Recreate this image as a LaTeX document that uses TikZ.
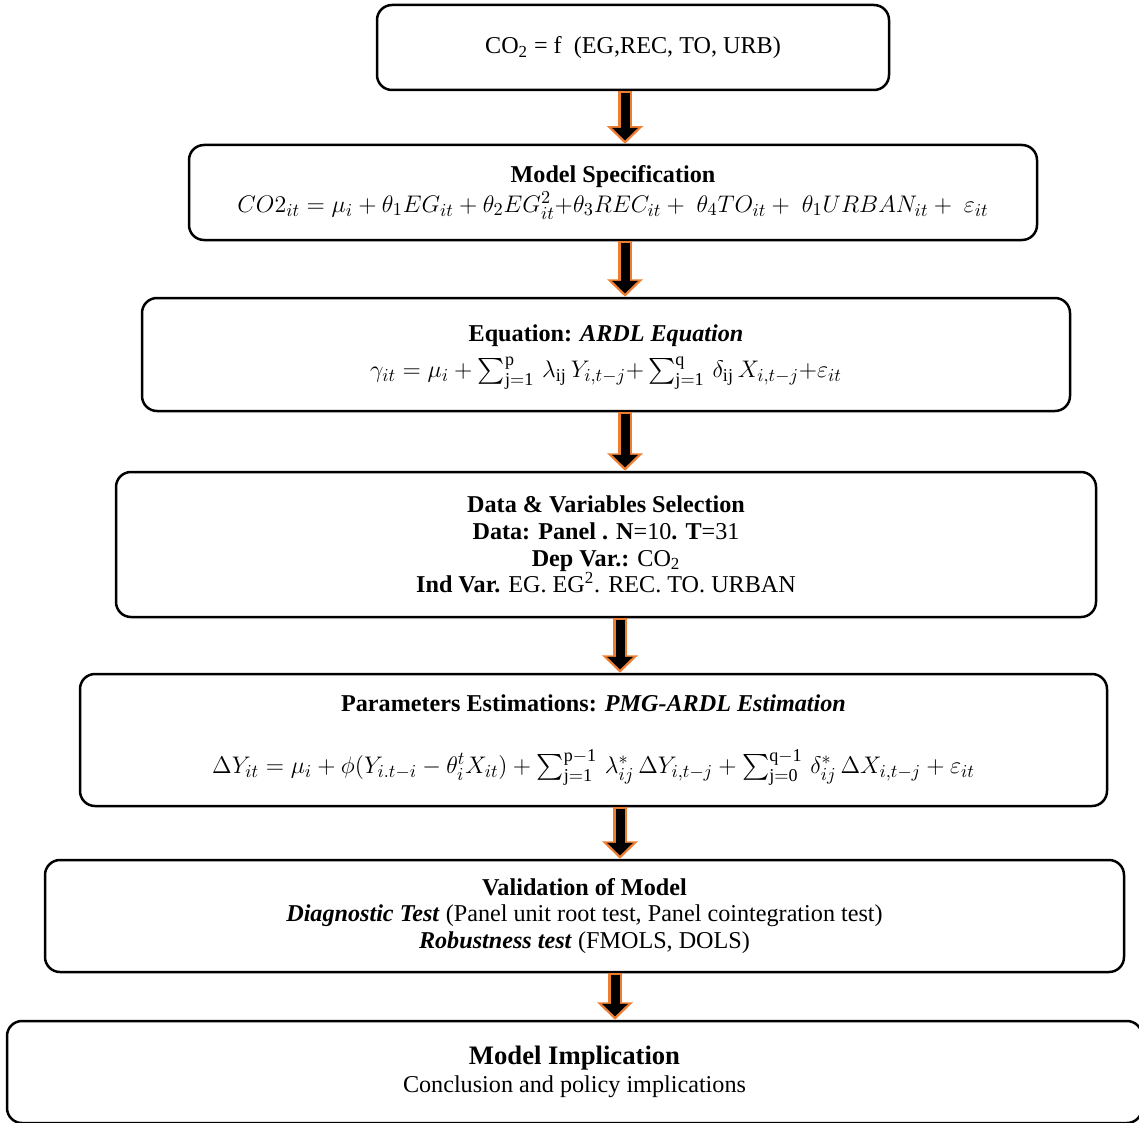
\documentclass[tikz,border=0pt]{standalone}
\usepackage{amsmath,amssymb}
\usepackage{fontspec}
\setmainfont{Liberation Serif}
\usepackage{tikz}
\usetikzlibrary{arrows.meta}
\definecolor{arrorange}{RGB}{237,125,49}
\newcommand{\eqsize}{\fontsize{15.5}{16}\selectfont}

\begin{document}
\begin{tikzpicture}[x=0.6pt,y=-0.6pt,
    stepbox/.style={draw=black,line width=1.5pt,rounded corners=9pt,align=center,inner sep=0pt,font=\fontsize{14.5}{16}\selectfont},
    flow/.style={draw=black,line width=5.4pt,-{Triangle[length=7.5pt,width=15pt]},shorten >=2pt,shorten <=0.8pt,
        preaction={draw=arrorange,line width=8.6pt,-{Triangle[length=10.5pt,width=21pt]},shorten >=0pt,shorten <=0pt}}]

    \useasboundingbox (0,0) rectangle (1139,1122);

    % Steps
    \node[stepbox,minimum width=307.2pt,minimum height=51pt] (b1) at (633,47.5)
        {CO\textsubscript{2} = f\ \ (EG,REC, TO, URB)};
    \node[stepbox,minimum width=508.8pt,minimum height=57pt] (b2) at (613,192.5)
        {\textbf{Model Specification}\\[2pt]
         {\eqsize$CO2_{it} = \mu_i + \theta_1 EG_{it} + \theta_2 EG^2_{it} {+}\theta_3 REC_{it} +\ \theta_4 TO_{it} +\ \theta_1 URBAN_{it} +\ \varepsilon_{it}$}};
    \node[stepbox,minimum width=556.8pt,minimum height=67.8pt] (b3) at (606,354.5)
        {\textbf{Equation: \textit{ARDL Equation}}\\[6pt]
         {\eqsize$\gamma_{it} = \mu_i + \sum_{\mathrm{j=1}}^{\mathrm{p}}\, \lambda_{\mathrm{ij}}\, Y_{i,t-j} {+}\sum_{\mathrm{j=1}}^{\mathrm{q}}\, \delta_{\mathrm{ij}}\, X_{i,t-j}{+}\varepsilon_{it}$}\\[-12pt]\mbox{}};
    \node[stepbox,minimum width=588pt,minimum height=87pt] (b4) at (606,544.5)
        {\textbf{Data \& Variables Selection}\\
         \textbf{Data: Panel . N}=10\textbf{. T}=31\\
         \textbf{Dep Var.:} CO\textsubscript{2}\\
         \textbf{Ind Var.} EG. EG\textsuperscript{2}. REC. TO. URBAN};
    \node[stepbox,minimum width=616.2pt,minimum height=79.2pt] (b5) at (593.5,740)
        {\textbf{Parameters Estimations: \textit{PMG-ARDL Estimation}}\\[21pt]
         {\eqsize$\Delta Y_{it} = \mu_i + \phi(Y_{i.t-i} - \theta_i^t X_{it}) + \sum_{\mathrm{j=1}}^{\mathrm{p-1}}\, \lambda^*_{ij}\,\Delta Y_{i,t-j} + \sum_{\mathrm{j=0}}^{\mathrm{q-1}}\, \delta^*_{ij}\,\Delta X_{i,t-j} + \varepsilon_{it}$}};
    \node[stepbox,minimum width=647.4pt,minimum height=67.2pt] (b6) at (584.5,916)
        {\textbf{Validation of Model}\\
         \textbf{\textit{Diagnostic Test}} (Panel unit root test, Panel cointegration test)\\
         \textbf{\textit{Robustness test}} (FMOLS, DOLS)};
    \node[stepbox,minimum width=681pt,minimum height=61.2pt] (b7) at (574.5,1072)
        {{\fontsize{16}{18}\selectfont\textbf{Model Implication}}\\[1pt]
         Conclusion and policy implications};

    % Arrows between steps
    \draw[flow] (b1.south -| 625,0) -- (b2.north -| 625,0);
    \draw[flow] (b2.south -| 625,0) -- (b3.north -| 625,0);
    \draw[flow] (b3.south -| 625,0) -- (b4.north -| 625,0);
    \draw[flow] (b4.south -| 620,0) -- (b5.north -| 620,0);
    \draw[flow] (b5.south -| 620,0) -- (b6.north -| 620,0);
    \draw[flow] (b6.south -| 615,0) -- (b7.north -| 615,0);

\end{tikzpicture}
\end{document}
